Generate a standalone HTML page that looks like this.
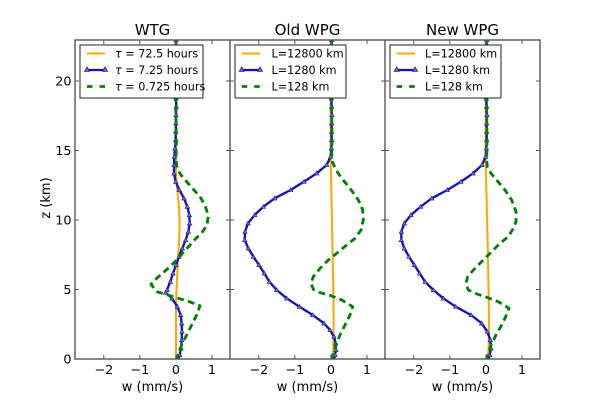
<!DOCTYPE html>
<html><head><meta charset="utf-8"><style>
html,body{margin:0;padding:0;background:#fff;}
svg{display:block;}
text{font-family:"DejaVu Sans","Liberation Sans",sans-serif;fill:#000;}
</style></head><body>
<svg width="600" height="400" viewBox="0 0 600 400" xmlns="http://www.w3.org/2000/svg">
<defs>
<clipPath id="c1"><rect x="75" y="40" width="155" height="319"/></clipPath>
<clipPath id="c2"><rect x="230" y="40" width="155" height="319"/></clipPath>
<clipPath id="c3"><rect x="385" y="40" width="155" height="319"/></clipPath>
<marker id="tri" markerUnits="userSpaceOnUse" viewBox="0 0 16 16" markerWidth="16" markerHeight="16" refX="8" refY="8" orient="0">
<path d="M8,1.5 L14.5,13 L1.5,13 Z" fill="#7777bb" stroke="#1a1aa8" stroke-width="2"/>
</marker>
</defs>
<rect width="600" height="400" fill="#fff"/>

<!-- Panel 1 curves -->
<g clip-path="url(#c1)"><g transform="translate(75,140) scale(0.333333)" fill="none" stroke-linejoin="round">
<polyline stroke="#ffa500" stroke-width="6" points="303,-300 303,100 305,130 308,160 311,190 313,220 314,250 313,280 312,310 310,340 308,380 306,420 304,460 303,500 303,560 303,660"/>
<polyline stroke="#1212b4" stroke-width="7" marker-start="url(#tri)" marker-mid="url(#tri)" marker-end="url(#tri)" points="303,-300 303,-275 304,-250 303,-225 303,-200 302,-175 303,-150 303,-125 304,-100 303,-75 303,-50 302,-25 302,0 300,25 298,50 297,75 297,100 302,125 313,150 327,175 337,200 343,225 344,250 340,275 332,300 322,325 312,350 303,375 294,400 286,425 276,450 272,458 291,475 307,500 317,525 320,550 321,575 320,600 318,625 314,645 310,660"/>
<polyline stroke="#008000" stroke-width="8.5" stroke-dasharray="20,13" points="303,-300 303,-200 302,-100 304,0 303,60 306,85 318,105 335,125 355,148 375,170 391,198 400,228 396,255 383,275 365,293 345,315 325,337 305,360 285,380 262,400 245,415 228,433 246,455 262,460 340,484 375,497 365,525 350,555 335,585 320,615 310,640 305,660"/>
</g></g>

<!-- Panel 2 curves -->
<g clip-path="url(#c2)"><g transform="translate(230,140) scale(0.333333)" fill="none" stroke-linejoin="round">
<polyline stroke="#ffa500" stroke-width="6" points="302,-300 302,60 304,150 306,250 308,350 310,450 311,550 310,620 308,660"/>
<polyline stroke="#1212b4" stroke-width="7" marker-start="url(#tri)" marker-mid="url(#tri)" marker-end="url(#tri)" points="305,-300 305,-275 304,-250 305,-225 306,-200 305,-175 305,-150 304,-125 305,-100 306,-75 305,-50 305,-25 305,0 304,25 302,50 290,75 260,100 222,125 182,150 134,175 100,200 74,225 54,250 45,275 44,300 55,325 70,350 87,375 103,400 118,425 140,450 170,475 208,500 248,525 282,550 300,570 312,590 317,610 318,630 315,645 312,660"/>
<polyline stroke="#008000" stroke-width="8.5" stroke-dasharray="20,13" points="305,-300 304,-150 306,0 305,40 307,65 318,90 335,115 360,145 385,180 398,210 400,240 393,270 375,295 350,315 320,340 295,360 270,385 250,410 243,430 250,448 270,458 300,466 335,480 368,500 360,525 345,555 330,585 318,615 308,645 305,660"/>
</g></g>

<!-- Panel 3 curves -->
<g clip-path="url(#c3)"><g transform="translate(385,140) scale(0.333333)" fill="none" stroke-linejoin="round">
<polyline stroke="#ffa500" stroke-width="6" points="302,-300 302,60 304,150 307,260 309,360 311,470 312,550 311,620 308,660"/>
<polyline stroke="#1212b4" stroke-width="7" marker-start="url(#tri)" marker-mid="url(#tri)" marker-end="url(#tri)" points="305,-300 305,-275 304,-250 305,-225 306,-200 305,-175 305,-150 304,-125 305,-100 306,-75 305,-50 305,-25 305,0 304,25 302,50 291,75 264,100 228,125 187,150 140,175 107,200 78,225 58,250 49,275 49,300 58,325 72,350 88,375 104,400 120,425 145,450 175,475 212,500 258,525 290,550 307,575 316,600 318,625 314,645 310,660"/>
<polyline stroke="#008000" stroke-width="8.5" stroke-dasharray="20,13" points="305,-300 304,-150 306,0 305,60 307,80 318,100 335,120 360,150 380,180 393,215 393,245 385,265 370,290 345,310 320,335 295,360 265,390 248,410 243,430 250,450 270,460 300,470 340,485 372,505 362,530 350,555 333,585 318,615 308,645 305,660"/>
</g></g>

<!-- Spines -->
<g stroke="#555" stroke-width="1.4" fill="none">
<rect x="75" y="40" width="465" height="319"/>
<line x1="230" y1="40" x2="230" y2="359"/>
<line x1="385" y1="40" x2="385" y2="359"/>
</g>

<!-- Ticks -->
<g stroke="#555" stroke-width="1">
<path d="M103.8,359v-4M139.85,359v-4M175.9,359v-4M211.95,359v-4M103.8,40v4M139.85,40v4M175.9,40v4M211.95,40v4"/>
<path d="M258.8,359v-4M294.85,359v-4M330.9,359v-4M366.95,359v-4M258.8,40v4M294.85,40v4M330.9,40v4M366.95,40v4"/>
<path d="M413.8,359v-4M449.85,359v-4M485.9,359v-4M521.95,359v-4M413.8,40v4M449.85,40v4M485.9,40v4M521.95,40v4"/>
<path d="M75,289.5h4M75,220h4M75,150.5h4M75,81h4M230,289.5h-4M230,220h-4M230,150.5h-4M230,81h-4"/>
<path d="M230,289.5h4M230,220h4M230,150.5h4M230,81h4M385,289.5h-4M385,220h-4M385,150.5h-4M385,81h-4"/>
<path d="M385,289.5h4M385,220h4M385,150.5h4M385,81h4M540,289.5h-4M540,220h-4M540,150.5h-4M540,81h-4"/>
</g>

<!-- Titles -->
<g font-size="15" text-anchor="middle">
<text x="152.5" y="35">WTG</text>
<text x="307.5" y="35">Old WPG</text>
<text x="462.5" y="35">New WPG</text>
</g>

<!-- Y tick labels -->
<g font-size="12.8" text-anchor="end">
<text x="71.5" y="363.6">0</text>
<text x="71.5" y="294.1">5</text>
<text x="71.5" y="224.6">10</text>
<text x="71.5" y="155.1">15</text>
<text x="71.5" y="85.6">20</text>
</g>
<text font-size="13" text-anchor="middle" transform="translate(50,198) rotate(-90)">z (km)</text>

<!-- X tick labels -->
<g font-size="12.8" text-anchor="middle">
<text x="103.8" y="374">−2</text><text x="139.85" y="374">−1</text><text x="175.9" y="374">0</text><text x="211.95" y="374">1</text>
<text x="258.8" y="374">−2</text><text x="294.85" y="374">−1</text><text x="330.9" y="374">0</text><text x="366.95" y="374">1</text>
<text x="413.8" y="374">−2</text><text x="449.85" y="374">−1</text><text x="485.9" y="374">0</text><text x="521.95" y="374">1</text>
</g>
<g font-size="13" text-anchor="middle">
<text x="152.5" y="391">w (mm/s)</text>
<text x="307.5" y="391">w (mm/s)</text>
<text x="462.5" y="391">w (mm/s)</text>
</g>

<!-- Legends -->
<g>
<rect x="80" y="45" width="123" height="53" fill="#fff" stroke="#222" stroke-width="1"/>
<line x1="87" y1="53.5" x2="105" y2="53.5" stroke="#ffa500" stroke-width="2"/>
<line x1="87" y1="70" x2="105" y2="70" stroke="#1212b4" stroke-width="2.2"/>
<path d="M87,67 l2.5,4.3 h-5 Z M105,67 l2.5,4.3 h-5 Z" fill="#7777bb" stroke="#1a1aa8" stroke-width="0.8"/>
<line x1="87" y1="86.5" x2="105" y2="86.5" stroke="#008000" stroke-width="2.8" stroke-dasharray="5.5,7"/>
<g font-size="11.2">
<text x="115" y="57.5"><tspan font-style="italic">τ</tspan> = 72.5 hours</text>
<text x="115" y="74"><tspan font-style="italic">τ</tspan> = 7.25 hours</text>
<text x="115" y="90.5"><tspan font-style="italic">τ</tspan> = 0.725 hours</text>
</g>
</g>
<g>
<rect x="235" y="45" width="111" height="53" fill="#fff" stroke="#222" stroke-width="1"/>
<line x1="241.7" y1="53.5" x2="260" y2="53.5" stroke="#ffa500" stroke-width="2"/>
<line x1="241.7" y1="70" x2="260" y2="70" stroke="#1212b4" stroke-width="2.2"/>
<path d="M241.7,67 l2.5,4.3 h-5 Z M260,67 l2.5,4.3 h-5 Z" fill="#7777bb" stroke="#1a1aa8" stroke-width="0.8"/>
<line x1="241.7" y1="86.5" x2="260" y2="86.5" stroke="#008000" stroke-width="2.8" stroke-dasharray="5.5,7"/>
<g font-size="11.2">
<text x="271.5" y="57.5">L=12800 km</text>
<text x="271.5" y="74">L=1280 km</text>
<text x="271.5" y="90.5">L=128 km</text>
</g>
</g>
<g>
<rect x="390" y="45" width="111" height="53" fill="#fff" stroke="#222" stroke-width="1"/>
<line x1="396.7" y1="53.5" x2="415" y2="53.5" stroke="#ffa500" stroke-width="2"/>
<line x1="396.7" y1="70" x2="415" y2="70" stroke="#1212b4" stroke-width="2.2"/>
<path d="M396.7,67 l2.5,4.3 h-5 Z M415,67 l2.5,4.3 h-5 Z" fill="#7777bb" stroke="#1a1aa8" stroke-width="0.8"/>
<line x1="396.7" y1="86.5" x2="415" y2="86.5" stroke="#008000" stroke-width="2.8" stroke-dasharray="5.5,7"/>
<g font-size="11.2">
<text x="425" y="57.5">L=12800 km</text>
<text x="425" y="74">L=1280 km</text>
<text x="425" y="90.5">L=128 km</text>
</g>
</g>
</svg>
</body></html>
